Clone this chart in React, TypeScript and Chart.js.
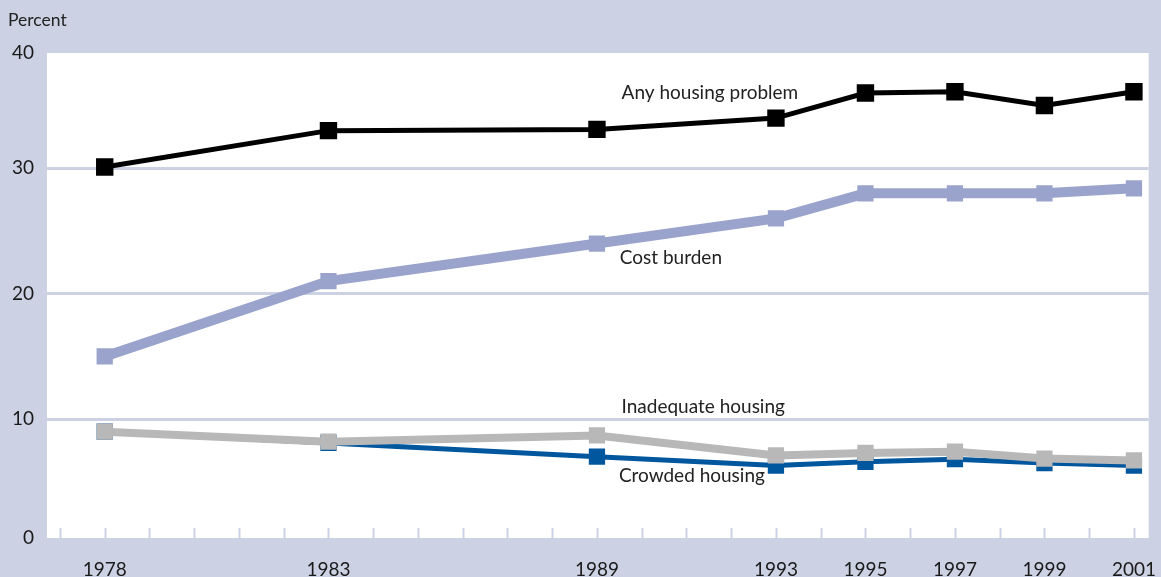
import React, { useEffect, useRef } from "react";
import { Chart, registerables } from "chart.js";

Chart.register(...registerables);

// ---- data ----
const years = [1978, 1983, 1989, 1993, 1995, 1997, 1999, 2001];
const anyProblem = [30.1, 33.0, 33.1, 34.0, 36.0, 36.1, 35.0, 36.1];
const costBurden = [15.0, 21.0, 24.0, 26.0, 28.0, 28.0, 28.0, 28.4];
const inadequate = [9.0, 8.2, 8.7, 7.1, 7.3, 7.4, 6.85, 6.7];
const crowded = [9.0, 8.1, 7.0, 6.3, 6.6, 6.8, 6.5, 6.3];

const xLabelYears = [1978, 1983, 1989, 1993, 1995, 1997, 1999, 2001];
const minorYears = Array.from({ length: 25 }, (_, i) => 1977 + i);
const yTickValues = [10, 20, 30];
const yTickLabels = ["0", "10", "20", "30", "40"];
const yMin = 0.52;
const yMax = 39.19;
const xMin = 1976.71;
const xMax = 2001.33;

const annoLabels = ["Any housing problem", "Cost burden", "Inadequate housing", "Crowded housing"];
const annoX = [1989.55, 1989.51, 1989.55, 1989.49];
const annoY = [36.0, 22.85, 10.98, 5.48];

const BG = "#cdd1e4";
const FONT = "Lato, 'Open Sans', sans-serif";

const pts = (vals: number[]) => years.map((yr, i) => ({ x: yr, y: vals[i] }));

const customPlugin = {
  id: "custom",
  beforeDraw(chart: any) {
    const { ctx, chartArea } = chart;
    ctx.save();
    ctx.fillStyle = "#ffffff";
    ctx.fillRect(chartArea.left, chartArea.top, chartArea.right - chartArea.left, chartArea.bottom - chartArea.top);
    ctx.restore();
  },
  beforeDatasetsDraw(chart: any) {
    const { ctx, chartArea, scales } = chart;
    ctx.save();
    ctx.strokeStyle = BG;
    ctx.lineWidth = 2;
    minorYears.forEach((yr) => {
      const px = Math.round(scales.x.getPixelForValue(yr)) + 0.5;
      ctx.beginPath();
      ctx.moveTo(px, chartArea.bottom - 10);
      ctx.lineTo(px, chartArea.bottom);
      ctx.stroke();
    });
    ctx.restore();
  },
  afterDraw(chart: any) {
    const { ctx, scales } = chart;
    ctx.save();
    ctx.fillStyle = "#222222";
    ctx.font = `19px ${FONT}`;
    ctx.textAlign = "left";
    ctx.textBaseline = "middle";
    annoLabels.forEach((t, i) => {
      ctx.fillText(t, scales.x.getPixelForValue(annoX[i]), scales.y.getPixelForValue(annoY[i]));
    });
    ctx.font = `17.5px ${FONT}`;
    ctx.fillText("Percent", 8, 20);
    ctx.restore();
  },
};

export default function App() {
  const ref = useRef<HTMLCanvasElement>(null);
  useEffect(() => {
    document.body.style.margin = "0";
    const chart = new Chart(ref.current as HTMLCanvasElement, {
      type: "line",
      data: {
        datasets: [
          {
            label: "Any housing problem",
            data: pts(anyProblem),
            borderColor: "#000000",
            backgroundColor: "#000000",
            borderWidth: 5,
            pointStyle: "rect",
            pointRadius: 12.3,
            pointBorderWidth: 0,
          },
          {
            label: "Cost burden",
            data: pts(costBurden),
            borderColor: "#9aa3cb",
            backgroundColor: "#9aa3cb",
            borderWidth: 10,
            pointStyle: "rect",
            pointRadius: 11.5,
            pointBorderWidth: 0,
          },
          {
            label: "Inadequate housing",
            data: pts(inadequate),
            borderColor: "#b8b8b8",
            backgroundColor: "#b8b8b8",
            borderWidth: 8,
            pointStyle: "rect",
            pointRadius: 11.5,
            pointBorderWidth: 0,
          },
          {
            label: "Crowded housing",
            data: pts(crowded),
            borderColor: "#00579d",
            backgroundColor: "#00579d",
            borderWidth: 5,
            pointStyle: "rect",
            pointRadius: 11.5,
            pointBorderWidth: 0,
          },
        ],
      },
      options: {
        responsive: false,
        animation: false,
        events: [],
        layout: { padding: { top: 53, right: 9, left: 0, bottom: 0 } },
        plugins: { legend: { display: false }, tooltip: { enabled: false }, title: { display: false } },
        elements: { line: { tension: 0, borderJoinStyle: "miter" as any } },
        scales: {
          x: {
            type: "linear",
            min: xMin,
            max: xMax,
            afterFit: (axis: any) => {
              axis.height = 39;
              axis.paddingLeft = 0;
              axis.paddingRight = 0;
            },
            afterBuildTicks: (axis: any) => {
              axis.ticks = xLabelYears.map((v) => ({ value: v }));
            },
            grid: { display: false, drawTicks: false },
            border: { display: false },
            ticks: {
              autoSkip: false,
              maxRotation: 0,
              padding: 20,
              color: "#1a1a1a",
              font: { family: FONT, size: 19 },
              callback: (v: any) => String(v),
            },
          },
          y: {
            type: "linear",
            min: yMin,
            max: yMax,
            afterFit: (axis: any) => {
              axis.width = 47;
              axis.paddingTop = 0;
              axis.paddingBottom = 0;
            },
            afterBuildTicks: (axis: any) => {
              axis.ticks = [yMin, ...yTickValues, yMax].map((v) => ({ value: v }));
            },
            grid: {
              drawTicks: false,
              lineWidth: 3,
              color: (c: any) => (c.index === 0 || c.index === 4 ? "rgba(0,0,0,0)" : BG),
            },
            border: { display: false },
            ticks: {
              padding: 13,
              color: "#1a1a1a",
              font: { family: FONT, size: 19 },
              callback: (_v: any, i: number) => yTickLabels[i],
            },
          },
        },
      },
      plugins: [customPlugin],
    });
    return () => chart.destroy();
  }, []);
  return (
    <div style={{ width: 1161, height: 577, background: BG }}>
      <canvas ref={ref} width={1161} height={577} style={{ display: "block" }} />
    </div>
  );
}
